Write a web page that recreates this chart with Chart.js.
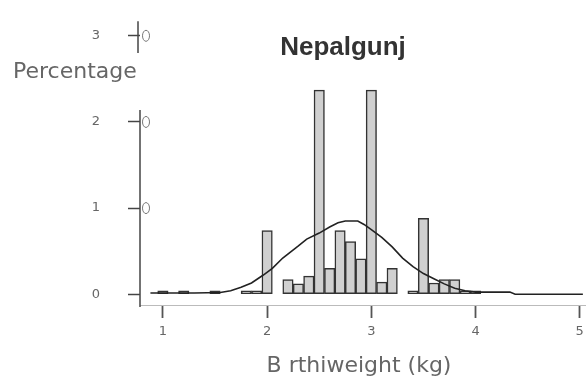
<!DOCTYPE html>
<html>
<head>
<meta charset="utf-8">
<script src="https://cdn.jsdelivr.net/npm/chart.js@4.4.1/dist/chart.umd.min.js"></script>
<style>
  html, body { margin: 0; padding: 0; background: #ffffff; }
  #wrap { width: 586px; height: 376px; }
</style>
</head>
<body>
<div id="wrap"><canvas id="c" width="586" height="376"></canvas></div>
<script>
// ---- data ----
const chartTitle = 'Nepalgunj';
const xAxisLabel = 'B rthiweight (kg)';
const yAxisLabel = 'Percentage';
const xTickValues = [1, 2, 3, 4, 5];
const yTickValues = [0, 1, 2, 3];

// histogram bins (kg, bin centre) and percentage in each bin
const binCenters = [1.0, 1.1, 1.2, 1.3, 1.4, 1.5, 1.6, 1.7, 1.8, 1.9, 2.0, 2.1, 2.2, 2.3, 2.4, 2.5, 2.6, 2.7, 2.8, 2.9, 3.0, 3.1, 3.2, 3.3, 3.4, 3.5, 3.6, 3.7, 3.8, 3.9, 4.0];
const binPercent = [0.04, 0, 0.04, 0, 0, 0.04, 0, 0, 0.04, 0.04, 0.74, 0, 0.17, 0.12, 0.21, 2.37, 0.30, 0.74, 0.61, 0.41, 2.37, 0.14, 0.30, 0, 0.04, 0.88, 0.13, 0.17, 0.17, 0.04, 0.04];

// fitted curve
const curveX = [0.88, 1.30, 1.55, 1.65, 1.75, 1.85, 1.96, 2.05, 2.15, 2.30, 2.38, 2.50, 2.60, 2.68, 2.75, 2.87, 2.93, 3.00, 3.10, 3.20, 3.30, 3.40, 3.50, 3.60, 3.70, 3.80, 3.90, 4.00, 4.33, 4.38, 5.03];
const curveY = [0.015, 0.015, 0.02, 0.04, 0.08, 0.13, 0.22, 0.30, 0.42, 0.56, 0.64, 0.71, 0.78, 0.83, 0.85, 0.85, 0.81, 0.75, 0.66, 0.55, 0.42, 0.32, 0.24, 0.18, 0.12, 0.07, 0.04, 0.025, 0.025, 0.0, 0.0];

// ---- chart ----
Chart.defaults.font.family = "'DejaVu Sans', sans-serif";

const decorPlugin = {
  id: 'decor',
  afterDraw(chart) {
    const ctx = chart.ctx;
    const y = chart.scales.y;
    const axX = chart.chartArea.left;
    ctx.save();
    // partial y axis line
    ctx.strokeStyle = '#444';
    ctx.lineWidth = 1.5;
    ctx.beginPath();
    ctx.moveTo(axX, y.getPixelForValue(2.14));
    ctx.lineTo(axX, chart.chartArea.bottom + 2);
    ctx.stroke();
    // short vertical stroke at the top tick
    ctx.beginPath();
    ctx.moveTo(axX - 2, y.getPixelForValue(3.17));
    ctx.lineTo(axX - 2, y.getPixelForValue(2.80));
    ctx.stroke();
    // small loops right of the upper ticks
    ctx.strokeStyle = '#777';
    ctx.lineWidth = 1;
    [1, 2, 3].forEach(v => {
      const py = y.getPixelForValue(v);
      ctx.beginPath();
      ctx.ellipse(axX + 6, py, 3.5, 5.5, 0, 0, Math.PI * 2);
      ctx.stroke();
    });
    // title
    ctx.fillStyle = '#333';
    ctx.font = "bold 26px 'Liberation Sans', Arial, sans-serif";
    ctx.textAlign = 'center';
    ctx.textBaseline = 'alphabetic';
    ctx.fillText(chartTitle, 343, 55);
    // axis titles
    ctx.fillStyle = '#666';
    ctx.font = "22px 'DejaVu Sans', sans-serif";
    ctx.textAlign = 'left';
    ctx.fillText(yAxisLabel, 13, 78);
    ctx.textAlign = 'center';
    ctx.fillText(xAxisLabel, 359, 372);
    ctx.restore();
  }
};

new Chart(document.getElementById('c'), {
  data: {
    datasets: [
      {
        type: 'line',
        data: curveX.map((v, i) => ({ x: v, y: curveY[i] })),
        borderColor: '#222',
        borderWidth: 1.6,
        pointRadius: 0,
        fill: false,
        tension: 0,
        order: 0
      },
      {
        type: 'bar',
        data: binCenters.map((v, i) => ({ x: v, y: binPercent[i] > 0 ? binPercent[i] : null })),
        backgroundColor: '#d0d0d0',
        borderColor: '#333',
        borderWidth: 1.5,
        borderSkipped: false,
        barPercentage: 1,
        categoryPercentage: 1,
        order: 1
      }
    ]
  },
  options: {
    responsive: false,
    animation: false,
    layout: { padding: { top: 30, left: 0, right: 0, bottom: 0 } },
    plugins: { legend: { display: false }, tooltip: { enabled: false }, title: { display: false } },
    scales: {
      x: {
        type: 'linear',
        position: 'bottom',
        offset: false,
        min: 0.78,
        max: 5.06,
        afterBuildTicks: s => { s.ticks = xTickValues.map(v => ({ value: v })); },
        afterFit: s => { s.height = 71; s.paddingLeft = 0; s.paddingRight = 0; },
        grid: { offset: false, drawOnChartArea: false, drawTicks: true, tickLength: 13, tickColor: '#555', tickWidth: 1.8 },
        border: { display: true, color: '#bbb', width: 1 },
        ticks: { color: '#666', font: { size: 13 }, padding: 6, maxRotation: 0 }
      },
      y: {
        type: 'linear',
        min: -0.125,
        max: 3,
        afterBuildTicks: s => { s.ticks = yTickValues.map(v => ({ value: v })); },
        afterFit: s => { s.width = 140; },
        grid: { drawOnChartArea: false, drawTicks: true, tickLength: 12, tickColor: '#444', tickWidth: 1.5 },
        border: { display: false },
        ticks: { color: '#666', font: { size: 13 }, padding: 28 }
      }
    }
  },
  plugins: [decorPlugin]
});
</script>
</body>
</html>
